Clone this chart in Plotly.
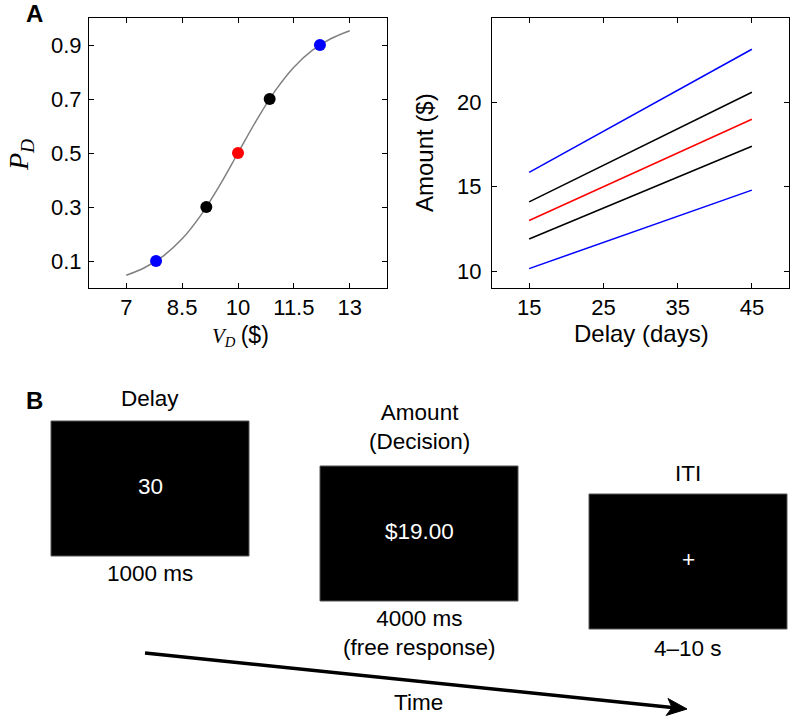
import plotly.graph_objects as go

# ---------------- data ----------------
# Panel A left: psychometric curve P_D vs V_D
vd_curve = [7.0, 7.5, 8.0, 8.5, 9.0, 9.5, 10.0, 10.5, 11.0, 11.5, 12.0, 12.5, 13.0]
pd_curve = [0.047, 0.076, 0.119, 0.182, 0.269, 0.378, 0.5, 0.622, 0.731, 0.818, 0.881, 0.924, 0.953]
vd_points = [7.8, 9.15, 10.0, 10.85, 12.2]
pd_points = [0.1, 0.3, 0.5, 0.7, 0.9]
point_colors = ["#0000ff", "#000000", "#ff0000", "#000000", "#0000ff"]
left_xticks = [7, 8.5, 10, 11.5, 13]
left_yticks = [0.1, 0.3, 0.5, 0.7, 0.9]

# Panel A right: amount vs delay
delays = [15, 45]
amount_blue_low = [10.15, 14.8]
amount_black_low = [11.9, 17.4]
amount_red = [13.0, 19.0]
amount_black_high = [14.1, 20.6]
amount_blue_high = [15.85, 23.15]
amount_series = [amount_blue_low, amount_black_low, amount_red, amount_black_high, amount_blue_high]
amount_colors = ["#0000ff", "#000000", "#ff0000", "#000000", "#0000ff"]
right_xticks = [15, 25, 35, 45]
right_yticks = [10, 15, 20]

# Panel B: trial structure
screen_titles = ["Delay", "Amount<br>(Decision)", "ITI"]
screen_contents = ["30", "$19.00", "+"]
screen_durations = ["1000 ms", "4000 ms<br>(free response)", "4\u201310 s"]

# ---------------- layout helpers ----------------
W, H = 800, 726
def px(x):
    return x / W
def py(y):
    return 1 - y / H

SANS = "Liberation Sans, Arial, Helvetica, sans-serif"
SERIF = "Liberation Serif, Times New Roman, serif"

fig = go.Figure()

fig.add_trace(go.Scatter(x=vd_curve, y=pd_curve, mode="lines", line=dict(color="#808080", width=1.5, shape="spline"),
                         xaxis="x", yaxis="y", showlegend=False, hoverinfo="skip"))
fig.add_trace(go.Scatter(x=vd_points, y=pd_points, mode="markers",
                         marker=dict(color=point_colors, size=12, line=dict(width=0)),
                         xaxis="x", yaxis="y", showlegend=False))
for vals, col in zip(amount_series, amount_colors):
    fig.add_trace(go.Scatter(x=delays, y=vals, mode="lines", line=dict(color=col, width=1.5),
                             xaxis="x2", yaxis="y2", showlegend=False))

axis_common = dict(showgrid=False, zeroline=False, showline=True, linecolor="black", linewidth=1,
                   mirror="ticks", ticks="inside", ticklen=5, tickcolor="black",
                   tickfont=dict(family=SANS, size=22, color="black"))

fig.update_layout(
    width=W, height=H, margin=dict(l=0, r=0, t=0, b=0),
    paper_bgcolor="white", plot_bgcolor="white",
    xaxis=dict(domain=[px(89), px(387)], range=[6, 14], tickvals=left_xticks,
               ticktext=["7", "8.5", "10", "11.5", "13"], anchor="y", **axis_common),
    yaxis=dict(domain=[py(288), py(18)], range=[0, 1], tickvals=left_yticks,
               ticktext=["0.1", "0.3", "0.5", "0.7", "0.9"], anchor="x", ticklabelstandoff=2, **axis_common),
    xaxis2=dict(domain=[px(492), px(789)], range=[10, 50], tickvals=right_xticks, anchor="y2", **axis_common),
    yaxis2=dict(domain=[py(288), py(18)], range=[9, 25], tickvals=right_yticks, anchor="x2", ticklabelstandoff=5, **axis_common),
)

ann = []
def text(x, y, t, size=22, family=SANS, color="black", **kw):
    ann.append(dict(x=px(x), y=py(y), xref="paper", yref="paper", text=t, showarrow=False,
                    font=dict(family=family, size=size, color=color), xanchor="center", yanchor="middle", **kw))

# panel letters
text(34, 14, "<b>A</b>", size=24)
text(34, 400, "<b>B</b>", size=24)

# axis titles
text(20, 155, "<i>P</i><sub><i>D</i></sub>", size=28, family=SERIF, textangle=-90)
text(240, 336, "<i>V</i><sub><i>D</i></sub> <span style='font-family:Liberation Sans, Arial;font-size:23px'>($)</span>",
     size=21, family=SERIF)
text(425, 153, "Amount ($)", size=24, textangle=-90)
text(641, 333, "Delay (days)", size=24)

# panel B screens
boxes = [(51, 421, 249, 556), (320, 466, 518, 601), (589, 494, 787, 629)]
title_y = [398, 427, 473]
dur_y = [573, 632.5, 648]
shapes = []
for (x0, y0, x1, y1), tt, cc, dd, ty, dy in zip(boxes, screen_titles, screen_contents, screen_durations, title_y, dur_y):
    shapes.append(dict(type="rect", xref="paper", yref="paper", x0=px(x0), x1=px(x1), y0=py(y1), y1=py(y0),
                       fillcolor="black", line=dict(color="#555555", width=1)))
    cx = (x0 + x1) / 2
    text(cx, ty, tt, size=22.5)
    text(cx, (y0 + y1) / 2 - 2, cc, size=22.5, color="white")
    text(cx, dy, dd, size=22.5)

# time arrow (line + notched head)
ax0, ay0, tx, ty_ = 145, 653, 687, 709
dx, dy_ = tx - ax0, ty_ - ay0
L = (dx * dx + dy_ * dy_) ** 0.5
ux, uy = dx / L, dy_ / L
nx, ny = -uy, ux
head_len, half_w, notch = 20, 8.5, 15
bx, by = tx - head_len * ux, ty_ - head_len * uy
lx, ly = bx + half_w * nx, by + half_w * ny
rx, ry = bx - half_w * nx, by - half_w * ny
nnx, nny = tx - notch * ux, ty_ - notch * uy
shapes.append(dict(type="line", xref="paper", yref="paper", x0=px(ax0), y0=py(ay0), x1=px(nnx), y1=py(nny),
                   line=dict(color="black", width=3.5)))
path = "M {} {} L {} {} L {} {} L {} {} Z".format(px(tx), py(ty_), px(lx), py(ly), px(nnx), py(nny), px(rx), py(ry))
shapes.append(dict(type="path", xref="paper", yref="paper", path=path, fillcolor="black", line=dict(color="black", width=1)))
text(418, 702, "Time", size=22.5)

fig.update_layout(annotations=ann, shapes=shapes)
# remove the default 8px page margin so figure pixels map 1:1 to the window
fig.write_html("out.html", config={"displayModeBar": False},
               post_script="document.body.style.margin='0';document.body.style.overflow='hidden';")
